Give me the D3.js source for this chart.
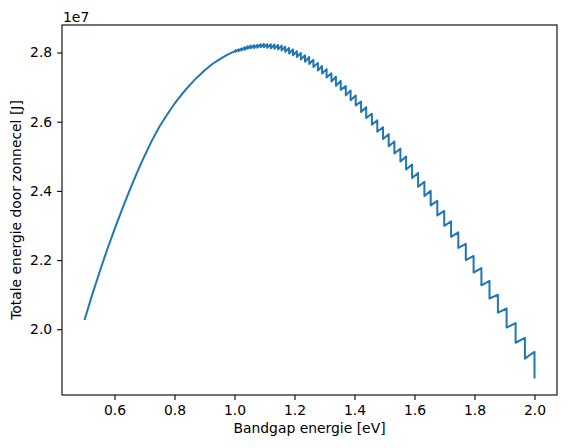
<!DOCTYPE html>
<html>
<head>
<meta charset="utf-8">
<script src="https://cdn.jsdelivr.net/npm/d3@7"></script>
<style>
  body { margin: 0; background: #fff; }
  #chart text { font-family: "DejaVu Sans", sans-serif; fill: #000; }
</style>
</head>
<body>
<div id="chart"></div>
<script>
// bandgap energie [eV] -> totale energie [J], in eenheden van 1e7
// gladde deel van de curve (links)
const gladE = [0.500, 0.525, 0.550, 0.575, 0.600, 0.625, 0.650, 0.675, 0.700, 0.725,
    0.750, 0.775, 0.800, 0.825, 0.850, 0.875, 0.900, 0.925, 0.950, 0.975, 1.000];
const gladW = [2.027, 2.098, 2.165, 2.229, 2.289, 2.346, 2.401, 2.453, 2.501, 2.546,
    2.586, 2.620, 2.652, 2.680, 2.705, 2.728, 2.748, 2.766, 2.780, 2.793, 2.803];

// zaagtand: op elke sprong gaat de lijn van piek naar dal
const sprongE = [1.004, 1.014, 1.024, 1.034, 1.044, 1.054, 1.065, 1.076, 1.087, 1.098,
    1.109, 1.121, 1.133, 1.145, 1.157, 1.169, 1.182, 1.195, 1.208, 1.221,
    1.235, 1.249, 1.263, 1.278, 1.292, 1.307, 1.323, 1.338, 1.354, 1.371,
    1.387, 1.404, 1.422, 1.439, 1.458, 1.476, 1.495, 1.514, 1.533, 1.553,
    1.572, 1.592, 1.612, 1.633, 1.654, 1.676, 1.699, 1.722, 1.746, 1.771,
    1.797, 1.823, 1.850, 1.878, 1.907, 1.937, 1.968, 2.000];
const piekW = [2.807, 2.809, 2.812, 2.815, 2.818, 2.820, 2.821, 2.822, 2.824, 2.825,
    2.824, 2.824, 2.823, 2.822, 2.820, 2.817, 2.813, 2.809, 2.804, 2.799,
    2.792, 2.787, 2.779, 2.770, 2.761, 2.752, 2.740, 2.730, 2.718, 2.703,
    2.690, 2.676, 2.658, 2.642, 2.623, 2.604, 2.584, 2.564, 2.543, 2.522,
    2.499, 2.476, 2.452, 2.426, 2.400, 2.371, 2.342, 2.312, 2.280, 2.247,
    2.212, 2.177, 2.140, 2.100, 2.060, 2.018, 1.975, 1.935];
const dalW = [2.802, 2.804, 2.806, 2.808, 2.811, 2.812, 2.813, 2.814, 2.815, 2.815,
    2.814, 2.812, 2.811, 2.809, 2.806, 2.802, 2.797, 2.792, 2.787, 2.780,
    2.773, 2.767, 2.758, 2.748, 2.739, 2.728, 2.716, 2.704, 2.692, 2.676,
    2.662, 2.647, 2.628, 2.611, 2.591, 2.571, 2.550, 2.529, 2.508, 2.485,
    2.462, 2.437, 2.412, 2.385, 2.358, 2.329, 2.299, 2.267, 2.235, 2.200,
    2.164, 2.127, 2.089, 2.048, 2.005, 1.961, 1.915, 1.858];

const xTicks = [0.6, 0.8, 1.0, 1.2, 1.4, 1.6, 1.8, 2.0];
const yTicks = [2.0, 2.2, 2.4, 2.6, 2.8];

const drawChart = function() {
    const margin = {top: 25, right: 10, bottom: 53, left: 62},
        width = 567 - margin.left - margin.right,
        height = 448 - margin.top - margin.bottom;
    const fontSize = "13.9px";

    const data = gladE.map(function(e, i) { return {e: e, w: gladW[i]}; });
    sprongE.forEach(function(e, i) {
        data.push({e: e, w: piekW[i]});
        data.push({e: e, w: dalW[i]});
    });

    const x = d3.scaleLinear()
        .range([0, width])
        .domain([0.425, 2.075]);

    const y = d3.scaleLinear()
        .range([height, 0])
        .domain([1.810, 2.8795]);

    const line = d3.line()
        .x(function(d) { return x(d.e); })
        .y(function(d) { return y(d.w); });

    const svg = d3.select("#chart").append("svg")
        .attr("width", width + margin.left + margin.right)
        .attr("height", height + margin.top + margin.bottom)
        .append("g")
        .attr("transform", "translate(" + margin.left + "," + margin.top + ")");

    svg.append("path")
        .attr("d", line(data))
        .attr("fill", "none")
        .attr("stroke", "#1f77b4")
        .attr("stroke-width", 2)
        .attr("stroke-linejoin", "round");

    const xAxis = svg.append("g")
        .attr("transform", "translate(0," + height + ")")
        .call(d3.axisBottom(x)
            .tickValues(xTicks)
            .tickFormat(d3.format(".1f"))
            .tickSizeInner(4.9)
            .tickSizeOuter(0)
            .tickPadding(5.5));

    const yAxis = svg.append("g")
        .call(d3.axisLeft(y)
            .tickValues(yTicks)
            .tickFormat(d3.format(".1f"))
            .tickSizeInner(4.9)
            .tickSizeOuter(0)
            .tickPadding(4.9));

    [xAxis, yAxis].forEach(function(ax) {
        ax.select(".domain").remove();
        ax.selectAll("line").attr("stroke", "#000").attr("stroke-width", 1.1);
        ax.selectAll("text").style("font-size", fontSize).attr("fill", "#000");
    });

    // kader rond het plotgebied
    svg.append("rect")
        .attr("width", width)
        .attr("height", height)
        .attr("fill", "none")
        .attr("stroke", "#000")
        .attr("stroke-width", 1.1);

    // offset label
    svg.append("text")
        .attr("x", 1)
        .attr("y", -3.5)
        .style("font-size", fontSize)
        .text("1e7");

    // x as label
    svg.append("text")
        .attr("x", width / 2)
        .attr("y", height + 38)
        .style("text-anchor", "middle")
        .style("font-size", fontSize)
        .text("Bandgap energie [eV]");

    // y as label
    svg.append("text")
        .attr("transform", "rotate(-90)")
        .attr("x", 0 - (height / 2))
        .attr("y", 20.5 - margin.left)
        .style("text-anchor", "middle")
        .style("font-size", fontSize)
        .text("Totale energie door zonnecel [J]");
};

drawChart();
</script>
</body>
</html>
